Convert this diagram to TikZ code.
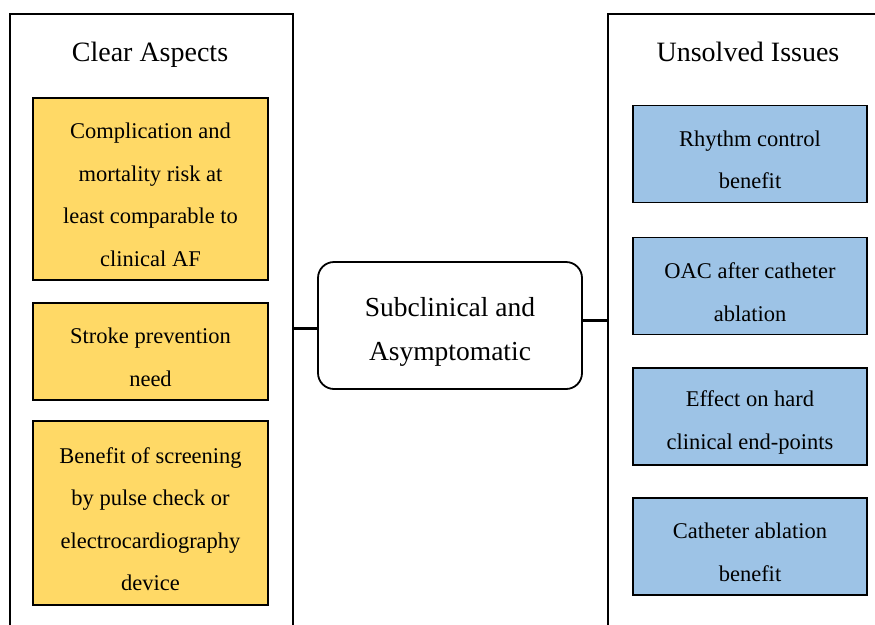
\documentclass[tikz,border=0pt]{standalone}
\usepackage{fontspec}
\setmainfont{Liberation Serif}
\definecolor{gold}{HTML}{FFD966}
\definecolor{skyb}{HTML}{9DC3E6}
\tikzset{
  panel/.style={draw=black, line width=2pt, fill=white, minimum width=283pt, minimum height=640pt, inner sep=0pt},
  ybox/.style={draw=black, line width=1.8pt, fill=gold, minimum width=235pt, inner sep=0pt},
  bbox/.style={draw=black, line width=1.8pt, fill=skyb, minimum width=234pt, minimum height=97pt, inner sep=0pt},
  btxt/.style={align=center, inner sep=0pt, yshift=-6pt, font=\fontsize{22.5}{42.5}\selectfont},
  ttl/.style={font=\fontsize{28}{32}\selectfont, inner sep=0pt, anchor=base},
  cbox/.style={draw=black, line width=1.8pt, fill=white, rounded corners=16pt, minimum width=264pt, minimum height=127pt, inner sep=0pt},
  ctxt/.style={align=center, inner sep=0pt, yshift=-6pt, font=\fontsize{27.5}{44}\selectfont},
  link/.style={line width=3pt}
}
\begin{document}
\begin{tikzpicture}[x=1pt,y=-1pt]
\useasboundingbox (0,0) rectangle (875,624);
\clip (0,0) rectangle (875,624);
\fill[white] (0,0) rectangle (875,624);
\node[panel, anchor=north west] (lp) at (9,13) {};
\node[panel, anchor=north west] (rp) at (607,13) {};
\node[ttl] (lt) at (150,61) {Clear Aspects};
\node[ttl] (rt) at (748,61) {Unsolved Issues};
\node[ybox, minimum height=182pt] (y1) at (150.5,189) {};
\node[btxt] (y1t) at (y1.center) {Complication and\\mortality risk at\\least comparable to\\clinical AF};
\node[ybox, minimum height=97pt] (y2) at (150.5,351.5) {};
\node[btxt] (y2t) at (y2.center) {Stroke prevention\\need};
\node[ybox, minimum height=184pt] (y3) at (150.5,513) {};
\node[btxt] (y3t) at (y3.center) {Benefit of screening\\by pulse check or\\electrocardiography\\device};
\node[bbox] (b1) at (750,154) {};
\node[btxt] (b1t) at (b1.center) {Rhythm control\\benefit};
\node[bbox] (b2) at (750,286) {};
\node[btxt] (b2t) at (b2.center) {OAC after catheter\\ablation};
\node[bbox] (b3) at (750,416.5) {};
\node[btxt] (b3t) at (b3.center) {Effect on hard\\clinical end-points};
\node[bbox] (b4) at (750,546.5) {};
\node[btxt] (b4t) at (b4.center) {Catheter ablation\\benefit};
\node[cbox] (c) at (450,325.5) {};
\node[ctxt] (ct) at (c.center) {Subclinical and\\Asymptomatic};
\draw[link] (lp.east |- 0,328) -- (c.west |- 0,328);
\draw[link] (c.east |- 0,320) -- (rp.west |- 0,320);
\end{tikzpicture}
\end{document}
